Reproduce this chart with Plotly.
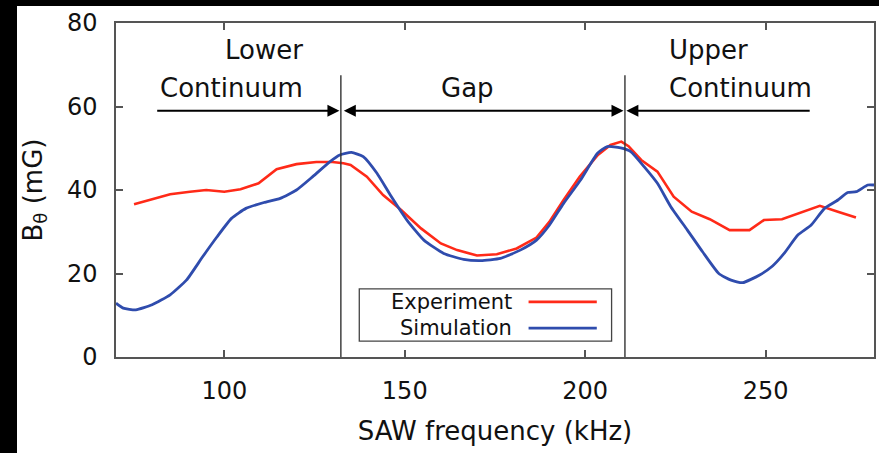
import plotly.graph_objects as go

# Measured SAW response: frequency (kHz) and B_theta (mG)
exp_freq = [75, 79.5, 85, 90.5, 95, 100, 104.5, 109.5, 114.5, 120, 125.5, 130, 133, 135,
            139.5, 144, 149, 154.5, 160, 164.5, 170, 175.5, 181, 186.5, 190, 194, 198.5,
            203.5, 207, 210, 212, 215.5, 220, 224.5, 229.5, 234.5, 240, 245.5, 249.5,
            254.5, 260, 265, 270, 275]
exp_b = [36.6, 37.6, 39.0, 39.6, 40.0, 39.6, 40.2, 41.6, 45.0, 46.2, 46.7, 46.7, 46.4, 46.0,
         43.2, 38.8, 35.2, 30.8, 27.2, 25.6, 24.3, 24.6, 26.0, 28.6, 32.3, 37.6, 43.2,
         48.4, 50.8, 51.6, 50.5, 47.2, 44.4, 38.4, 34.8, 33.0, 30.4, 30.4, 32.8,
         33.0, 34.7, 36.2, 34.8, 33.4]

# Simulated response
sim_freq = [70, 72, 75.5, 80, 85, 89.5, 94, 98, 102, 106, 111, 115.5, 120, 124.5, 129.3,
            132, 135.2, 138.5, 142.3, 146, 150.6, 155.3, 160.8, 166.3, 171, 176.5, 182,
            186.5, 190, 194, 198.7, 203.4, 206.1, 209.8, 212.6, 216.3, 220, 223.7, 228.3,
            232.5, 237, 240.4, 243.6, 248.2, 251.9, 255.1, 258.9, 262.6, 266.3, 270,
            272.7, 275.1, 278.3, 280]
sim_b = [12.9, 11.7, 11.3, 12.5, 14.9, 18.4, 24.0, 28.8, 33.2, 35.6, 37.0, 38.0, 40.0, 43.2,
         46.8, 48.4, 49.0, 48.0, 44.0, 38.8, 32.8, 28.0, 24.8, 23.4, 23.1, 23.6, 25.6,
         28.0, 31.5, 36.8, 42.4, 48.8, 50.4, 50.1, 49.2, 45.6, 41.6, 36.0, 30.4,
         25.2, 20.0, 18.4, 17.8, 19.6, 21.8, 24.8, 29.2, 31.6, 35.6, 37.6,
         39.4, 39.6, 41.2, 41.2]

# Region boundaries (kHz) and region labels
gap_low = 132.3
gap_high = 211.0
lower_start = 81
upper_end = 262.6
x_ticks = [100, 150, 200, 250]
y_ticks = [0, 20, 40, 60, 80]

RED = "#ff2a18"
BLUE = "#2f4cad"
FONT = "DejaVu Sans"

W, H = 879, 453
ML, MR, MT, MB = 116, 5, 23, 96
PW, PH = W - ML - MR, H - MT - MB


def px(x):
    return (x - ML) / PW


def py(y):
    return (H - MB - y) / PH


fig = go.Figure()
fig.add_trace(go.Scatter(x=exp_freq, y=exp_b, mode="lines", name="Experiment",
                         line=dict(color=RED, width=2.6), showlegend=False))
fig.add_trace(go.Scatter(x=sim_freq, y=sim_b, mode="lines", name="Simulation",
                         line=dict(color=BLUE, width=2.8, shape="spline", smoothing=0.5),
                         showlegend=False))

shapes = []
# region separators
for xv in (gap_low, gap_high):
    shapes.append(dict(type="line", xref="x", yref="y", x0=xv, x1=xv, y0=0, y1=67.5,
                       line=dict(color="#333333", width=1.4)))

# legend box with line samples on the right
shapes.append(dict(type="rect", xref="x", yref="y", x0=137.4, x1=207.3, y0=3.8, y1=16.3,
                   line=dict(color="#444444", width=1.3), fillcolor="white"))
shapes.append(dict(type="line", xref="x", yref="y", x0=184.3, x1=203.2, y0=13.2, y1=13.2,
                   line=dict(color=RED, width=2.6)))
shapes.append(dict(type="line", xref="x", yref="y", x0=184.3, x1=203.2, y0=6.9, y1=6.9,
                   line=dict(color=BLUE, width=2.8)))

# dark frame strips along the top and left edges
shapes.append(dict(type="rect", xref="paper", yref="paper", x0=px(-5), x1=px(W + 5),
                   y0=py(6), y1=py(-5), fillcolor="black", line=dict(width=0), layer="above"))
shapes.append(dict(type="rect", xref="paper", yref="paper", x0=px(-5), x1=px(17),
                   y0=py(H + 5), y1=py(-5), fillcolor="black", line=dict(width=0), layer="above"))

ann = []
arrow = dict(xref="x", yref="y", axref="x", ayref="y", showarrow=True, text="",
             arrowhead=2, arrowsize=1.2, arrowwidth=2, arrowcolor="black", standoff=0,
             startarrowhead=2, startarrowsize=1.2, startstandoff=0)
ann.append(dict(arrow, x=gap_low - 0.4, y=59, ax=lower_start, ay=59, arrowside="end"))
ann.append(dict(arrow, x=gap_high - 0.4, y=59, ax=gap_low + 0.4, ay=59,
                arrowside="end+start"))
ann.append(dict(arrow, x=gap_high + 0.4, y=59, ax=upper_end, ay=59, arrowside="end"))

lab = dict(xref="x", yref="y", showarrow=False, font=dict(family=FONT, size=26, color="#111"))
ann.append(dict(lab, text="Lower", x=122.4, y=73.5, xanchor="right", yanchor="middle"))
ann.append(dict(lab, text="Continuum", x=122.4, y=64.4, xanchor="right", yanchor="middle"))
ann.append(dict(lab, text="Gap", x=167.5, y=64.4, xanchor="center", yanchor="middle"))
ann.append(dict(lab, text="Upper", x=222.6, y=73.5, xanchor="left", yanchor="middle"))
ann.append(dict(lab, text="Continuum", x=222.6, y=64.4, xanchor="left", yanchor="middle"))

leg = dict(xref="x", yref="y", showarrow=False, xanchor="right", yanchor="middle",
           font=dict(family=FONT, size=21, color="#111"))
ann.append(dict(leg, text="Experiment", x=180.2, y=13.2))
ann.append(dict(leg, text="Simulation", x=180.2, y=6.9))

axis_common = dict(showline=True, linecolor="#555555", linewidth=1.5, mirror="ticks",
                   ticks="inside", ticklen=7, tickwidth=1.5, tickcolor="#555555",
                   showgrid=False, zeroline=False,
                   tickfont=dict(family=FONT, size=24, color="#111"))

fig.update_layout(
    width=W, height=H,
    margin=dict(l=ML, r=MR, t=MT, b=MB, autoexpand=False),
    paper_bgcolor="white", plot_bgcolor="white",
    shapes=shapes, annotations=ann,
    xaxis=dict(axis_common, range=[70, 280], tickvals=x_ticks, automargin=False,
               ticklabelstandoff=11,
               title=dict(text="SAW frequency (kHz)", standoff=18,
                          font=dict(family=FONT, size=26, color="#111"))),
    yaxis=dict(axis_common, range=[0, 80], tickvals=y_ticks, automargin=False,
               ticklabelstandoff=12,
               title=dict(text="B<sub>θ</sub> (mG)", standoff=17,
                          font=dict(family=FONT, size=26, color="#111"))),
)

fig.write_html("out.html")
